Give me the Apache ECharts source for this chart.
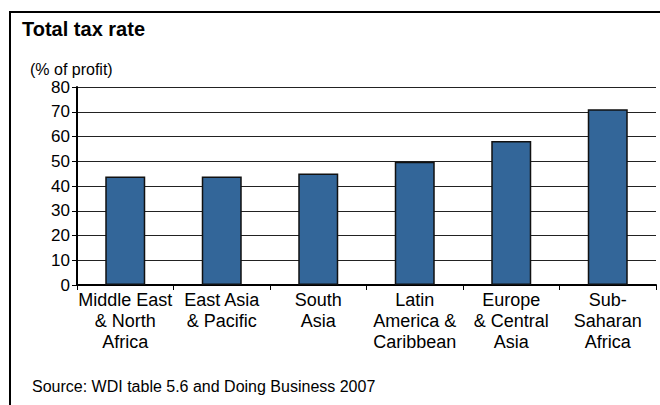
<!DOCTYPE html>
<html>
<head>
<meta charset="utf-8">
<script src="https://cdn.jsdelivr.net/npm/echarts@6/dist/echarts.min.js"></script>
<style>
  html, body { margin: 0; padding: 0; background: #ffffff; }
  #chart { width: 660px; height: 405px; }
</style>
</head>
<body>
<div id="chart"></div>
<script>
// Regions, in the order they are drawn left to right
const categories = [
  'Middle East\n& North\nAfrica',
  'East Asia\n& Pacific',
  'South\nAsia',
  'Latin\nAmerica &\nCaribbean',
  'Europe\n& Central\nAsia',
  'Sub-\nSaharan\nAfrica'
];
// Total tax rate, % of profit
const taxRate = [43.8, 43.8, 45.1, 49.8, 58.2, 71.0];
// Value axis ticks
const yTicks = [0, 10, 20, 30, 40, 50, 60, 70, 80];

const titleText = 'Total tax rate';
const unitText = '(% of profit)';
const sourceText = 'Source: WDI table 5.6 and Doing Business 2007';

const FONT = '"Liberation Sans", Arial, Helvetica, sans-serif';

const chart = echarts.init(document.getElementById('chart'), null, { renderer: 'svg' });

chart.setOption({
  backgroundColor: '#ffffff',
  animation: false,
  graphic: [
    {
      type: 'rect',
      shape: { x: 10, y: 12, width: 700, height: 450 },
      style: { fill: 'none', stroke: '#000', lineWidth: 2 },
      silent: true
    },
    {
      type: 'text',
      x: 22, y: 29,
      style: {
        text: titleText, fill: '#000',
        font: 'bold 20px ' + FONT,
        textVerticalAlign: 'middle'
      }
    },
    {
      type: 'text',
      x: 30, y: 69.5,
      style: {
        text: unitText, fill: '#000',
        font: '16px ' + FONT,
        textVerticalAlign: 'middle'
      }
    },
    {
      type: 'text',
      x: 32, y: 386,
      style: {
        text: sourceText, fill: '#000',
        font: '16px ' + FONT,
        textVerticalAlign: 'middle'
      }
    }
  ],
  grid: { left: 77, right: 4, top: 87, bottom: 120, containLabel: false },
  xAxis: {
    type: 'category',
    data: categories,
    axisLine: { show: true, lineStyle: { color: '#000', width: 2 } },
    axisTick: { show: true, length: 5, lineStyle: { color: '#000', width: 1 } },
    axisLabel: {
      color: '#000', fontFamily: FONT, fontSize: 18, lineHeight: 21,
      margin: 4, interval: 0, align: 'center'
    },
    splitLine: { show: false }
  },
  yAxis: {
    type: 'value',
    min: yTicks[0],
    max: yTicks[yTicks.length - 1],
    interval: yTicks[1] - yTicks[0],
    axisLine: { show: true, lineStyle: { color: '#000', width: 2 } },
    axisTick: { show: true, length: 5, lineStyle: { color: '#000', width: 1 } },
    axisLabel: { color: '#000', fontFamily: FONT, fontSize: 17, margin: 7 },
    splitLine: { show: true, lineStyle: { color: '#222', width: 1 } }
  },
  series: [{
    type: 'bar',
    data: taxRate,
    barWidth: 40,
    itemStyle: { color: '#336699', borderColor: '#111', borderWidth: 1.5 },
    silent: true
  }]
});
</script>
</body>
</html>
